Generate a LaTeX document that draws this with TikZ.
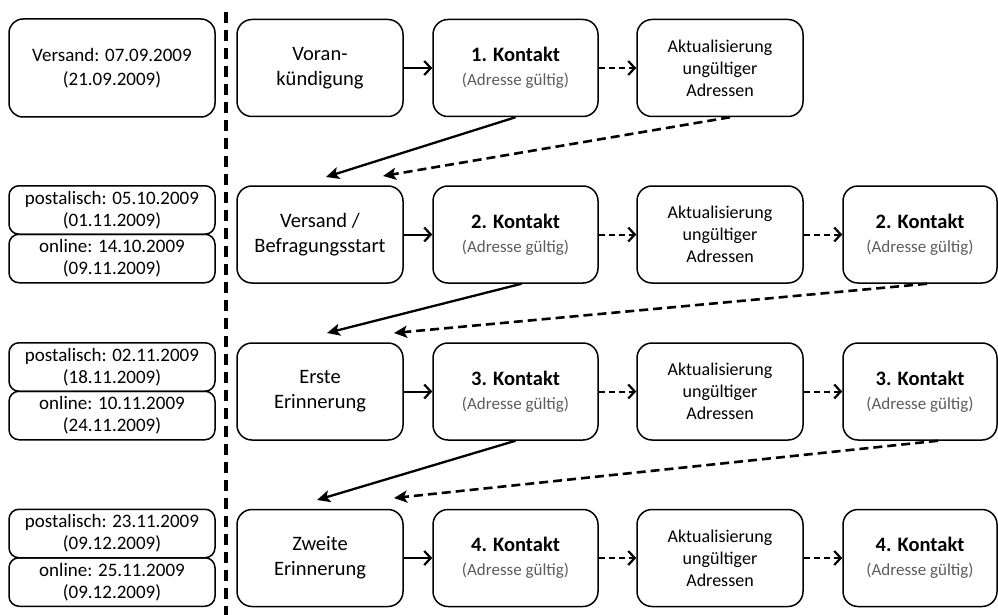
\documentclass[tikz,border=0pt]{standalone}
\usepackage{fontspec}
\setmainfont{Carlito}
\usetikzlibrary{arrows.meta}
\definecolor{subgray}{HTML}{5C5C5C}
\begin{document}
\begin{tikzpicture}[x=1pt,y=-1pt,
  stage/.style={draw, line width=1.5pt, rounded corners=15pt, align=center,
    inner sep=0pt, minimum height=97pt, minimum width=166pt},
  datebox/.style={draw, line width=1.5pt, rounded corners=14pt, align=center,
    inner sep=0pt, minimum width=206pt, minimum height=98pt,
    font=\fontsize{19}{24}\selectfont},
  halfbox/.style={draw, line width=1.5pt, rounded corners=10pt, align=center,
    inner sep=0pt, minimum width=206pt, minimum height=48.5pt,
    font=\fontsize{19}{22}\selectfont},
  maintxt/.style={font=\fontsize{20.5}{25}\selectfont},
  updtxt/.style={font=\fontsize{18}{22}\selectfont},
  flow/.style={line width=2pt, -{Straight Barb[length=6.5pt,width=14pt,line width=2.2pt]}},
  flowdash/.style={flow, dash pattern=on 6pt off 4pt},
  jump/.style={line width=2.3pt, -{Stealth[length=13pt,width=12pt,inset=3pt]}},
  jumpdash/.style={jump, line width=2.6pt, dash pattern=on 9pt off 5pt},
  divider/.style={line width=3.5pt, dash pattern=on 11pt off 7pt}
]
\useasboundingbox (0,0) rectangle (998,615);

\newcommand{\kontakt}[1]{\textbf{#1. Kontakt}\\[-1pt]{\fontsize{17}{22}\selectfont\color{subgray}(Adresse gültig)}}

% divider between dates and process
\coordinate (divtop) at (226,12);
\coordinate (divbot) at (226,615);
\draw[divider] (divtop) -- (divbot);

% dates
\node[datebox] (d1) at (112,68) {Versand: 07.09.2009\\(21.09.2009)};
\node[halfbox] (d2p) at (112,210) {postalisch: 05.10.2009\\(01.11.2009)};
\node[halfbox] (d2o) at (112,258.5) {online: 14.10.2009\\(09.11.2009)};
\node[halfbox] (d3p) at (112,367) {postalisch: 02.11.2009\\(18.11.2009)};
\node[halfbox] (d3o) at (112,415.5) {online: 10.11.2009\\(24.11.2009)};
\node[halfbox] (d4p) at (112,533.5) {postalisch: 23.11.2009\\(09.12.2009)};
\node[halfbox] (d4o) at (112,582) {online: 25.11.2009\\(09.12.2009)};

% row 1
\node[stage, maintxt] (v1) at (320,68) {Voran-\\kündigung};
\node[stage, maintxt, minimum width=165pt] (k1) at (515.5,68) {\kontakt{1}};
\node[stage, updtxt] (a1) at (720,68) {Aktualisierung\\ungültiger\\Adressen};

% row 2
\node[stage, maintxt] (v2) at (320,234.5) {Versand /\\Befragungsstart};
\node[stage, maintxt, minimum width=165pt] (k2) at (515.5,234.5) {\kontakt{2}};
\node[stage, updtxt] (a2) at (720,234.5) {Aktualisierung\\ungültiger\\Adressen};
\node[stage, maintxt, minimum width=154pt] (b2) at (920,234.5) {\kontakt{2}};

% row 3
\node[stage, maintxt] (v3) at (320,391.5) {Erste\\Erinnerung};
\node[stage, maintxt, minimum width=165pt] (k3) at (515.5,391.5) {\kontakt{3}};
\node[stage, updtxt] (a3) at (720,391.5) {Aktualisierung\\ungültiger\\Adressen};
\node[stage, maintxt, minimum width=154pt] (b3) at (920,391.5) {\kontakt{3}};

% row 4
\node[stage, maintxt] (v4) at (320,558) {Zweite\\Erinnerung};
\node[stage, maintxt, minimum width=165pt] (k4) at (515.5,558) {\kontakt{4}};
\node[stage, updtxt] (a4) at (720,558) {Aktualisierung\\ungültiger\\Adressen};
\node[stage, maintxt, minimum width=154pt] (b4) at (920,558) {\kontakt{4}};

% arrows within rows
\draw[flow] (v1) -- (k1);
\draw[flowdash] (k1) -- (a1);
\draw[flow] (v2) -- (k2);
\draw[flowdash] (k2) -- (a2);
\draw[flowdash] (a2) -- (b2);
\draw[flow] (v3) -- (k3);
\draw[flowdash] (k3) -- (a3);
\draw[flowdash] (a3) -- (b3);
\draw[flow] (v4) -- (k4);
\draw[flowdash] (k4) -- (a4);
\draw[flowdash] (a4) -- (b4);

% transitions to the next wave
\coordinate (t2s) at (326,177);
\coordinate (t2d) at (383,176);
\coordinate (t3s) at (327,333);
\coordinate (t3d) at (394,333);
\coordinate (t4s) at (317,500);
\coordinate (t4d) at (394,498);
\draw[jump] (k1.south) -- (t2s);
\draw[jumpdash] ([xshift=10pt]a1.south) -- (t2d);
\draw[jump] ([xshift=6pt]k2.south) -- (t3s);
\draw[jumpdash] ([xshift=7pt]b2.south) -- (t3d);
\draw[jump] (k3.south) -- (t4s);
\draw[jumpdash] ([xshift=18pt]b3.south) -- (t4d);
\end{tikzpicture}
\end{document}
